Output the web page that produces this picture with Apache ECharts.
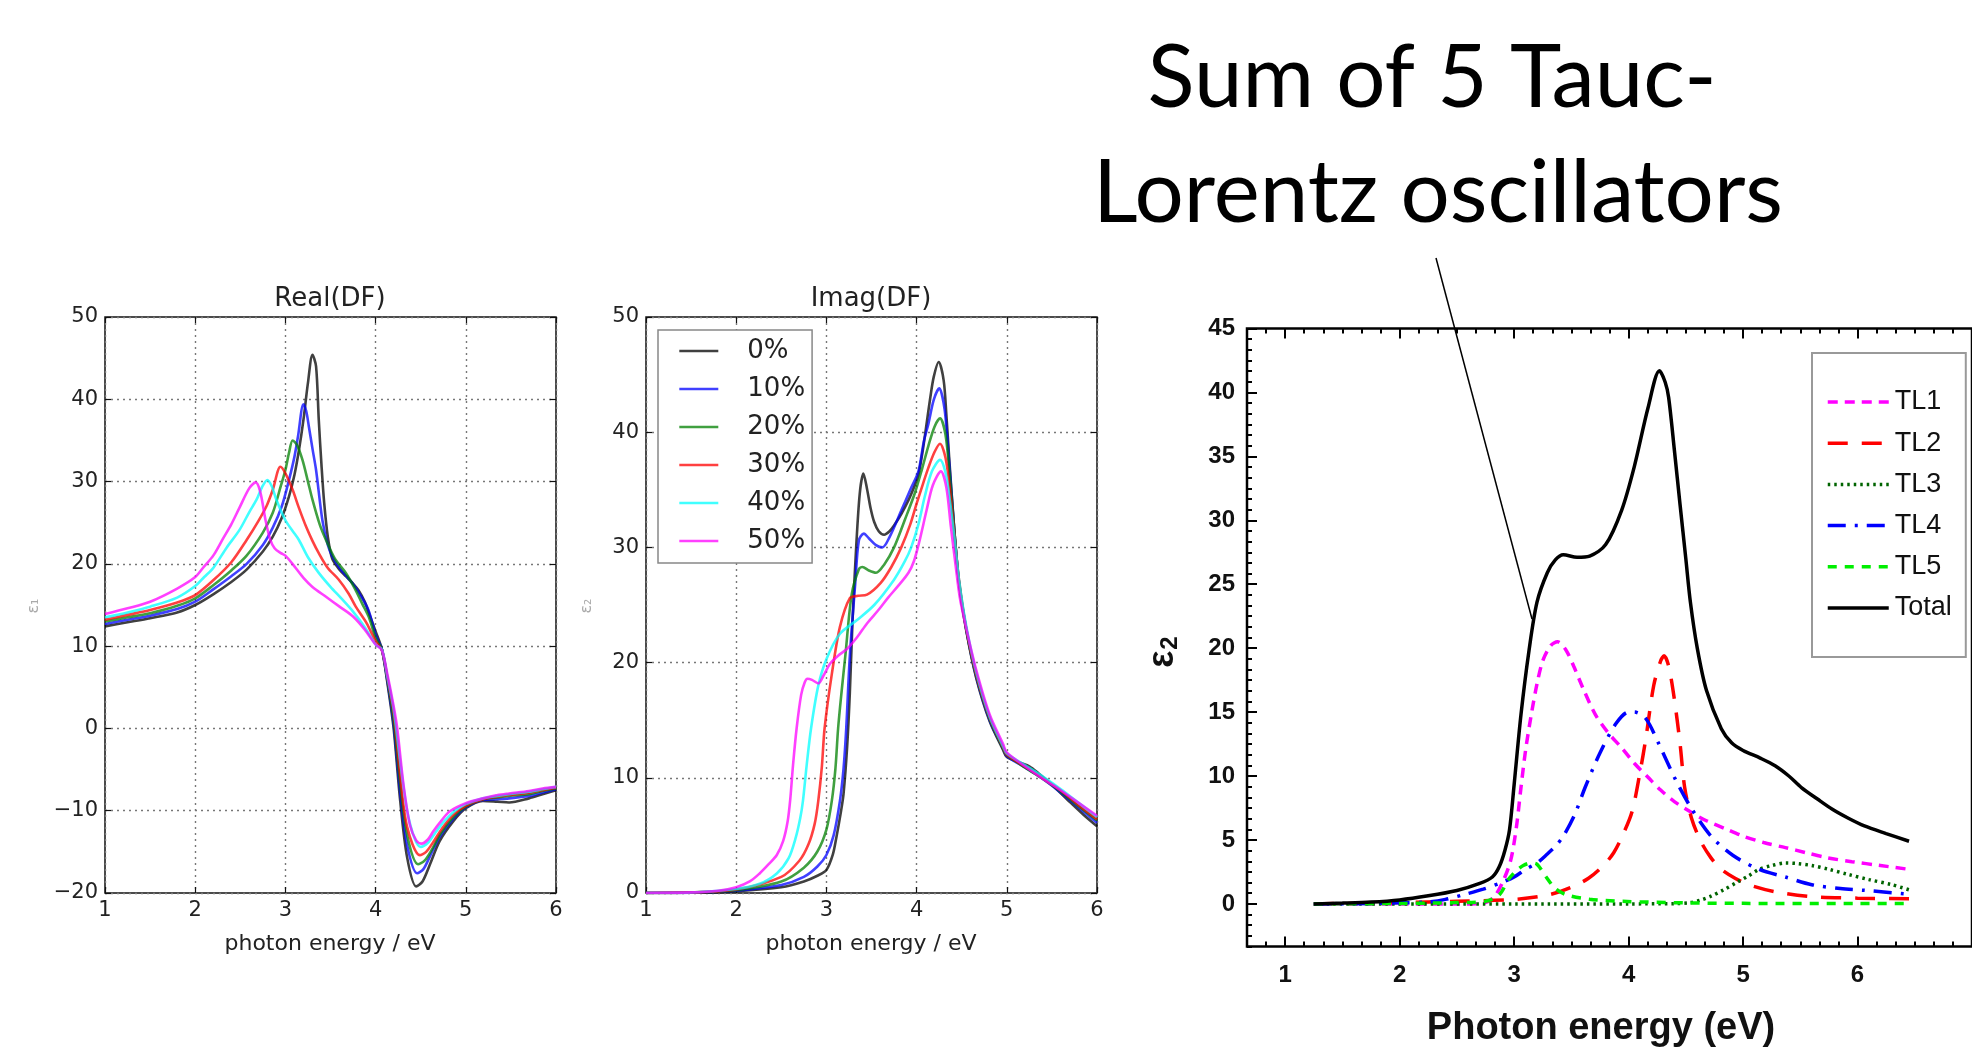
<!DOCTYPE html>
<html>
<head>
<meta charset="utf-8">
<script src="https://cdn.jsdelivr.net/npm/echarts@6/dist/echarts.min.js"></script>
<style>
  html, body { margin: 0; padding: 0; background: #fff; }
  #main { width: 1972px; height: 1064px; }
</style>
</head>
<body>
<div id="main"></div>
<script>
// ---- data ----
const dopingNames = ['0%', '10%', '20%', '30%', '40%', '50%'];
const dopingColors = ['#000000', '#0000ff', '#008000', '#ff0000', '#00ffff', '#ff00ff'];

// Real(DF): [photon energy, eps1]
const real0 = [[1.0,12.4],[1.25,12.9],[1.5,13.4],[1.8,14.1],[2.0,15.0],[2.2,16.3],[2.4,17.8],[2.57,19.3],[2.75,21.5],[2.86,23.3],[2.96,25.6],[3.04,28.2],[3.1,30.8],[3.15,33.8],[3.2,37.5],[3.25,42.0],[3.3,45.4],[3.34,44.0],[3.37,37.5],[3.4,32.0],[3.43,27.4],[3.47,23.3],[3.52,20.6],[3.6,19.3],[3.67,18.5],[3.75,17.6],[3.81,16.8],[3.88,15.4],[3.94,13.6],[4.0,11.8],[4.07,9.6],[4.13,5.6],[4.2,0],[4.27,-8.5],[4.35,-15.7],[4.45,-19.2],[4.52,-18.6],[4.6,-16.6],[4.71,-13.7],[4.86,-11.3],[5.0,-9.7],[5.19,-8.8],[5.35,-8.9],[5.48,-9.0],[5.7,-8.5],[5.85,-8.0],[6.0,-7.5]];
const real1 = [[1.0,12.7],[1.25,13.2],[1.5,13.7],[1.8,14.5],[2.0,15.4],[2.2,16.9],[2.4,18.5],[2.57,20.0],[2.75,22.3],[2.86,24.4],[2.96,27.0],[3.04,30.2],[3.1,33.0],[3.14,35.5],[3.2,39.4],[3.23,38.6],[3.26,36.7],[3.3,34.0],[3.34,31.4],[3.41,25.3],[3.47,22.3],[3.52,20.9],[3.6,19.5],[3.74,17.7],[3.82,16.4],[3.92,14.4],[4.0,11.4],[4.07,9.6],[4.13,5.8],[4.2,0.5],[4.27,-7.5],[4.35,-14.2],[4.46,-17.6],[4.53,-17.1],[4.6,-15.6],[4.71,-13.2],[4.86,-11.0],[5.0,-9.6],[5.19,-8.7],[5.35,-8.6],[5.48,-8.5],[5.7,-8.2],[5.85,-7.8],[6.0,-7.4]];
const real2 = [[1.0,13.0],[1.25,13.5],[1.5,14.0],[1.8,14.9],[2.0,15.8],[2.2,17.4],[2.4,19.2],[2.57,21.0],[2.75,23.8],[2.86,26.2],[2.95,29.5],[3.0,31.4],[3.04,33.5],[3.08,35.0],[3.13,34.4],[3.19,32.6],[3.25,30.0],[3.3,27.8],[3.38,24.8],[3.45,22.9],[3.55,20.6],[3.67,18.9],[3.77,17.0],[3.85,15.2],[3.93,13.4],[4.0,11.0],[4.07,9.6],[4.13,6.0],[4.2,1.0],[4.27,-6.5],[4.35,-13.0],[4.47,-16.5],[4.54,-16.1],[4.62,-14.8],[4.72,-12.8],[4.86,-10.8],[5.0,-9.5],[5.19,-8.6],[5.35,-8.4],[5.48,-8.2],[5.7,-8.0],[5.85,-7.6],[6.0,-7.3]];
const real3 = [[1.0,13.2],[1.25,13.8],[1.5,14.4],[1.8,15.3],[2.0,16.2],[2.2,18.0],[2.4,20.2],[2.57,22.9],[2.7,25.2],[2.79,27.0],[2.86,29.0],[2.945,31.8],[3.0,31.0],[3.08,29.0],[3.15,26.8],[3.23,24.5],[3.3,22.8],[3.37,21.3],[3.47,19.5],[3.59,18.1],[3.7,16.4],[3.78,14.8],[3.9,12.8],[4.0,10.6],[4.07,9.5],[4.13,6.2],[4.2,1.8],[4.27,-5.5],[4.35,-12.0],[4.49,-15.4],[4.56,-15.0],[4.64,-13.8],[4.74,-12.1],[4.86,-10.5],[5.0,-9.4],[5.19,-8.6],[5.35,-8.3],[5.48,-8.1],[5.7,-7.8],[5.85,-7.5],[6.0,-7.2]];
const real4 = [[1.0,13.5],[1.25,14.1],[1.5,14.8],[1.8,15.9],[2.0,17.3],[2.1,18.4],[2.2,19.5],[2.35,22.0],[2.49,24.1],[2.6,26.3],[2.68,27.8],[2.74,29.3],[2.8,30.2],[2.85,29.4],[2.9,27.8],[3.0,25.3],[3.08,24.0],[3.15,22.9],[3.25,20.8],[3.37,18.9],[3.5,17.2],[3.62,15.8],[3.75,14.2],[3.88,12.3],[4.0,10.2],[4.07,9.6],[4.13,6.3],[4.2,2.3],[4.27,-3.8],[4.35,-10.0],[4.43,-13.3],[4.5,-14.4],[4.58,-13.9],[4.66,-12.7],[4.76,-11.3],[4.88,-10.0],[5.0,-9.2],[5.19,-8.5],[5.35,-8.2],[5.48,-8.0],[5.7,-7.7],[5.85,-7.4],[6.0,-7.1]];
const real5 = [[1.0,13.9],[1.25,14.6],[1.5,15.4],[1.8,17.0],[2.0,18.4],[2.1,19.7],[2.2,21.0],[2.31,23.1],[2.4,24.8],[2.49,26.8],[2.6,29.2],[2.67,29.9],[2.72,28.8],[2.78,25.3],[2.83,23.0],[2.88,21.9],[2.95,21.3],[3.0,21.0],[3.1,19.7],[3.2,18.3],[3.3,17.2],[3.45,16.0],[3.6,14.8],[3.75,13.6],[3.88,12.0],[4.0,10.2],[4.07,9.5],[4.13,6.6],[4.2,2.7],[4.24,0],[4.31,-6.9],[4.38,-11.7],[4.45,-13.6],[4.51,-14.0],[4.58,-13.5],[4.64,-12.5],[4.73,-11.2],[4.82,-10.1],[5.0,-9.1],[5.19,-8.5],[5.35,-8.1],[5.48,-7.9],[5.7,-7.6],[5.85,-7.3],[6.0,-7.1]];

// Imag(DF): [photon energy, eps2]
const imag0 = [[1.0,0],[1.5,0.02],[2.0,0.15],[2.5,0.5],[2.75,1.0],[2.9,1.5],[3.0,2.0],[3.07,3.3],[3.11,4.8],[3.16,7.0],[3.19,8.6],[3.23,12.7],[3.26,17.4],[3.29,23.7],[3.33,30.0],[3.37,34.7],[3.41,36.4],[3.45,35.1],[3.49,33.4],[3.53,32.2],[3.58,31.4],[3.64,31.1],[3.7,31.4],[3.75,31.9],[3.83,32.9],[3.91,34.1],[3.97,35.2],[4.02,36.3],[4.07,38.5],[4.11,40.7],[4.15,42.9],[4.19,44.8],[4.245,46.1],[4.3,44.5],[4.33,41.5],[4.36,37.9],[4.42,31.3],[4.47,26.9],[4.55,22.8],[4.66,18.7],[4.81,14.9],[4.96,12.4],[5.0,11.8],[5.15,11.3],[5.25,11.0],[5.35,10.4],[5.5,9.4],[5.7,7.9],[5.85,6.8],[6.0,5.8]];
const imag1 = [[1.0,0],[1.5,0.03],[2.0,0.2],[2.5,0.7],[2.75,1.4],[2.9,2.3],[3.0,3.3],[3.08,5.0],[3.15,8.0],[3.19,10.8],[3.22,14.3],[3.26,20.6],[3.32,26.9],[3.36,30.6],[3.415,31.2],[3.47,30.8],[3.55,30.2],[3.62,30.0],[3.7,30.9],[3.83,33.2],[3.93,35.0],[4.02,36.6],[4.08,39.2],[4.13,40.7],[4.19,42.8],[4.25,43.8],[4.31,42.0],[4.36,37.5],[4.42,31.3],[4.47,27.0],[4.55,22.9],[4.66,18.8],[4.81,15.0],[4.96,12.5],[5.0,11.9],[5.2,10.9],[5.4,9.9],[5.6,8.7],[5.8,7.4],[6.0,6.1]];
const imag2 = [[1.0,0],[1.5,0.04],[2.0,0.25],[2.5,1.0],[2.75,2.2],[2.9,3.6],[3.0,5.5],[3.06,8.0],[3.1,10.8],[3.13,14.3],[3.17,17.6],[3.21,20.6],[3.28,25.9],[3.36,28.1],[3.4,28.3],[3.47,28.0],[3.55,27.8],[3.64,28.5],[3.75,30.0],[3.87,32.4],[3.98,34.7],[4.06,36.8],[4.13,38.8],[4.2,40.5],[4.26,41.2],[4.32,39.8],[4.37,36.0],[4.42,31.3],[4.47,27.0],[4.55,22.9],[4.66,18.9],[4.81,15.1],[4.96,12.5],[5.0,12.0],[5.2,10.9],[5.4,9.9],[5.6,8.8],[5.8,7.5],[6.0,6.3]];
const imag3 = [[1.0,0],[1.5,0.05],[2.0,0.3],[2.5,1.4],[2.7,2.8],[2.8,4.2],[2.87,6.0],[2.91,8.0],[2.95,11.0],[2.98,14.3],[3.06,19.0],[3.15,23.1],[3.26,25.6],[3.35,25.8],[3.45,25.9],[3.6,26.9],[3.72,28.3],[3.83,30.0],[3.93,32.0],[4.0,33.8],[4.07,35.5],[4.13,36.9],[4.2,38.3],[4.26,39.0],[4.32,37.8],[4.37,35.0],[4.42,31.0],[4.47,27.2],[4.55,23.0],[4.66,19.0],[4.81,15.2],[4.96,12.6],[5.0,12.0],[5.2,11.0],[5.4,10.0],[5.6,8.9],[5.8,7.6],[6.0,6.4]];
const imag4 = [[1.0,0],[1.5,0.05],[2.0,0.35],[2.26,0.8],[2.45,1.7],[2.58,3.0],[2.66,4.8],[2.71,6.5],[2.74,8.0],[2.78,11.0],[2.83,14.3],[2.91,18.0],[3.0,20.3],[3.15,22.5],[3.34,23.7],[3.53,25.0],[3.75,27.2],[3.87,28.8],[3.94,30.0],[4.02,32.0],[4.09,34.4],[4.17,36.6],[4.26,37.6],[4.32,36.5],[4.37,34.0],[4.42,30.8],[4.47,27.2],[4.55,23.2],[4.66,19.2],[4.81,15.3],[4.96,12.7],[5.0,12.1],[5.2,11.1],[5.4,10.1],[5.6,9.0],[5.8,7.8],[6.0,6.6]];
const imag5 = [[1.0,0],[1.5,0.05],[1.8,0.2],[2.0,0.5],[2.15,1.0],[2.26,1.7],[2.36,2.5],[2.45,3.3],[2.52,4.5],[2.57,6.2],[2.6,8.2],[2.63,11.1],[2.67,14.3],[2.72,17.2],[2.76,18.3],[2.79,18.6],[2.84,18.5],[2.91,18.2],[2.97,18.9],[3.04,19.9],[3.13,20.6],[3.23,21.2],[3.34,22.2],[3.45,23.4],[3.57,24.5],[3.68,25.6],[3.8,26.7],[3.91,27.8],[3.97,28.8],[4.03,30.5],[4.11,33.2],[4.18,35.4],[4.27,36.6],[4.33,35.2],[4.38,31.8],[4.43,28.6],[4.48,25.6],[4.55,23.0],[4.66,19.4],[4.81,15.5],[4.96,12.9],[5.0,12.2],[5.2,11.0],[5.4,9.9],[5.6,8.9],[5.8,7.8],[6.0,6.7]];

// Tauc-Lorentz fit: [photon energy, eps2]
const tl1 = [[1.25,0],[2.0,0],[2.6,0],[2.75,0.1],[2.83,0.6],[2.9,1.7],[2.97,3.4],[3.02,6.0],[3.06,9.1],[3.1,12.0],[3.15,14.8],[3.2,17.2],[3.25,19.0],[3.32,20.2],[3.38,20.5],[3.45,19.9],[3.52,18.6],[3.6,16.9],[3.71,14.8],[3.82,13.4],[3.94,12.2],[4.05,11.0],[4.17,9.9],[4.28,8.9],[4.4,8.0],[4.54,7.2],[4.68,6.5],[4.84,5.9],[5.0,5.3],[5.18,4.8],[5.37,4.4],[5.55,4.0],[5.74,3.6],[5.95,3.3],[6.2,3.0],[6.45,2.7]];
const tl2 = [[1.25,0],[2.0,0.1],[2.5,0.2],[3.0,0.35],[3.3,0.7],[3.5,1.3],[3.65,2.0],[3.78,3.0],[3.87,4.0],[3.95,5.4],[4.03,7.2],[4.1,10.3],[4.15,12.9],[4.22,17.1],[4.28,19.0],[4.31,19.4],[4.35,18.6],[4.4,16.0],[4.45,12.5],[4.49,9.1],[4.55,6.7],[4.63,4.9],[4.72,3.6],[4.81,2.7],[4.93,2.0],[5.05,1.5],[5.28,0.95],[5.6,0.57],[6.0,0.45],[6.45,0.4]];
const tl3 = [[1.25,0],[2.0,0],[3.0,0],[4.0,0],[4.4,0.02],[4.54,0.1],[4.63,0.3],[4.72,0.6],[4.83,1.1],[4.95,1.7],[5.05,2.2],[5.14,2.7],[5.25,3.0],[5.37,3.2],[5.48,3.15],[5.6,3.0],[5.75,2.7],[5.92,2.3],[6.1,1.9],[6.3,1.5],[6.45,1.1]];
const tl4 = [[1.25,0],[1.75,0.03],[2.0,0.08],[2.25,0.15],[2.4,0.35],[2.55,0.7],[2.73,1.15],[2.9,1.7],[3.0,2.1],[3.1,2.7],[3.2,3.2],[3.29,3.9],[3.36,4.5],[3.43,5.3],[3.53,7.0],[3.62,9.1],[3.75,11.8],[3.89,14.1],[4.0,15.0],[4.05,15.0],[4.15,14.5],[4.26,12.6],[4.4,9.9],[4.54,7.6],[4.72,5.3],[4.91,3.8],[5.14,2.7],[5.37,2.1],[5.6,1.5],[5.85,1.2],[6.06,1.06],[6.45,0.76]];
const tl5 = [[1.25,0],[2.0,0.03],[2.5,0.1],[2.75,0.2],[2.87,0.7],[2.95,1.9],[3.02,2.6],[3.08,3.0],[3.15,3.2],[3.2,3.1],[3.28,2.1],[3.36,1.2],[3.46,0.7],[3.66,0.36],[3.94,0.2],[4.5,0.08],[5.0,0.04],[6.0,0.02],[6.45,0.02]];
const total = [[1.25,0],[1.5,0.06],[1.75,0.14],[2.0,0.31],[2.25,0.63],[2.5,1.05],[2.7,1.6],[2.81,2.1],[2.87,2.9],[2.92,4.2],[2.96,5.8],[3.0,9.3],[3.06,14.8],[3.13,19.8],[3.2,23.6],[3.29,25.9],[3.36,26.9],[3.43,27.3],[3.55,27.1],[3.66,27.2],[3.8,28.1],[3.94,30.8],[4.05,34.2],[4.17,38.8],[4.27,41.7],[4.32,40.8],[4.35,39.6],[4.4,35.5],[4.45,31.2],[4.5,27.0],[4.54,23.6],[4.6,20.0],[4.68,16.7],[4.81,13.7],[4.9,12.6],[5.0,12.0],[5.15,11.4],[5.28,10.8],[5.4,10.0],[5.51,9.1],[5.65,8.2],[5.78,7.4],[5.92,6.7],[6.06,6.1],[6.25,5.5],[6.45,4.9]];

const tlNames = ['TL1', 'TL2', 'TL3', 'TL4', 'TL5', 'Total'];
const tlColors = ['#ff00ff', '#ff0000', '#006400', '#0000ff', '#00ee00', '#000000'];
const tlDashes = [[10, 7], [20, 14], [2.5, 4], [18, 9, 3, 9], [9, 8], 'solid'];

// tick values of the right-hand plot
const fitTicksX = [1, 2, 3, 4, 5, 6];
const fitTicksY = [0, 5, 10, 15, 20, 25, 30, 35, 40, 45];

const realData = [real0, real1, real2, real3, real4, real5];
const imagData = [imag0, imag1, imag2, imag3, imag4, imag5];
const tlData = [tl1, tl2, tl3, tl4, tl5, total];

// minor ticks: six steps per labelled step
const fitMinorX = [];
for (let i = 4; i <= 42; i++) fitMinorX.push(i / 6);
const fitMinorY = [];
for (let i = -4; i <= 54; i++) fitMinorY.push(i * 5 / 6);

var chart = echarts.init(document.getElementById('main'));

const mplFont = 'DejaVu Sans';
const mplText = '#222';
const minus = v => (v < 0 ? '\u2212' + Math.abs(v) : '' + v);

function mplX(grid, top) {
    return {
        type: 'value', gridIndex: grid, min: 1, max: 6, interval: 1,
        position: top ? 'top' : 'bottom',
        axisLine: { show: false, onZero: false },
        axisTick: { show: true, inside: true, length: 6, lineStyle: { color: '#111', width: 1.2 } },
        axisLabel: { show: !top, margin: 7, fontFamily: mplFont, fontSize: 21, color: mplText },
        splitLine: top ? { show: false } : { show: true, lineStyle: { type: [2, 4], color: '#777', width: 1.4 } }
    };
}
function mplY(grid, min, max, right) {
    return {
        type: 'value', gridIndex: grid, min: min, max: max, interval: 10,
        position: right ? 'right' : 'left',
        axisLine: { show: false, onZero: false },
        axisTick: { show: true, inside: true, length: 6, lineStyle: { color: '#111', width: 1.2 } },
        axisLabel: { show: !right, margin: 7, fontFamily: mplFont, fontSize: 21, color: mplText, formatter: minus },
        splitLine: right ? { show: false } : { show: true, lineStyle: { type: [2, 4], color: '#777', width: 1.4 } }
    };
}
function fitX(top, minor) {
    return {
        type: 'value', gridIndex: 2, min: 2 / 3, max: 7,
        position: top ? 'top' : 'bottom',
        axisLine: { show: false, onZero: false },
        axisTick: { show: true, inside: true, length: minor ? 5 : 10, customValues: minor ? fitMinorX : fitTicksX,
            lineStyle: { color: '#000', width: 2 } },
        axisLabel: { show: !top && !minor, customValues: fitTicksX, margin: 17,
            fontFamily: 'Liberation Sans', fontWeight: 'bold', fontSize: 24, color: '#111' },
        splitLine: { show: false }
    };
}
function fitY(minor) {
    return {
        type: 'value', gridIndex: 2, min: -10 / 3, max: 45, position: 'left',
        axisLine: { show: false, onZero: false },
        axisTick: { show: true, inside: true, length: minor ? 5 : 10, customValues: minor ? fitMinorY : fitTicksY,
            lineStyle: { color: '#000', width: 2 } },
        axisLabel: { show: !minor, customValues: fitTicksY, margin: 12,
            fontFamily: 'Liberation Sans', fontWeight: 'bold', fontSize: 24, color: '#111' },
        splitLine: { show: false }
    };
}

const series = [];
realData.forEach(function (d, i) {
    series.push({
        name: dopingNames[i], type: 'line', xAxisIndex: 0, yAxisIndex: 0, data: d,
        symbol: 'none', smooth: 0.3,
        lineStyle: { color: dopingColors[i], width: 2.6, opacity: 0.75 }, itemStyle: { color: dopingColors[i] }
    });
});
imagData.forEach(function (d, i) {
    series.push({
        name: dopingNames[i], type: 'line', xAxisIndex: 2, yAxisIndex: 2, data: d,
        symbol: 'none', smooth: 0.3,
        lineStyle: { color: dopingColors[i], width: 2.6, opacity: 0.75 }, itemStyle: { color: dopingColors[i] }
    });
});
tlData.forEach(function (d, i) {
    series.push({
        name: tlNames[i], type: 'line', xAxisIndex: 4, yAxisIndex: 4, data: d,
        symbol: 'none', smooth: 0.3,
        lineStyle: { color: tlColors[i], width: 3.5, type: tlDashes[i] }, itemStyle: { color: tlColors[i] }
    });
});

function label(text, x, y, font, fill, rotation) {
    return {
        type: 'text', x: x, y: y, silent: true, rotation: rotation || 0,
        style: { text: text, font: font, fill: fill || '#222', align: 'center', verticalAlign: 'middle' }
    };
}

option = {
    backgroundColor: '#fff',
    animation: false,
    grid: [
        { left: 105, top: 317, width: 451, height: 576, show: true, borderColor: '#111', borderWidth: 1.5, backgroundColor: '#fff' },
        { left: 646, top: 317, width: 451, height: 576, show: true, borderColor: '#111', borderWidth: 1.5, backgroundColor: '#fff' },
        { left: 1247, top: 328.5, width: 744, height: 618, show: true, borderColor: '#000', borderWidth: 2.5, backgroundColor: '#fff' }
    ],
    xAxis: [mplX(0, false), mplX(0, true), mplX(1, false), mplX(1, true),
        fitX(false, false), fitX(false, true), fitX(true, false), fitX(true, true)],
    yAxis: [mplY(0, -20, 50, false), mplY(0, -20, 50, true), mplY(1, 0, 50, false), mplY(1, 0, 50, true),
        fitY(false), fitY(true)],
    legend: [
        {
            data: dopingNames, orient: 'vertical', left: 658, top: 330,
            itemWidth: 39, itemHeight: 14, itemGap: 8, padding: [6, 7, 7, 20],
            borderColor: '#888', borderWidth: 1.5, backgroundColor: '#fff', selectedMode: false,
            itemStyle: { opacity: 0 }, lineStyle: { width: 2.6 },
            textStyle: { fontFamily: mplFont, fontSize: 26, color: mplText, lineHeight: 30, padding: [0, 0, 0, 24] }
        },
        {
            data: tlNames, orient: 'vertical', left: 1812, top: 353,
            itemWidth: 61, itemHeight: 14, itemGap: 7.2, padding: [32, 14, 32, 14],
            borderColor: '#999', borderWidth: 2, backgroundColor: '#fff', selectedMode: false,
            itemStyle: { opacity: 0 }, lineStyle: { width: 3.5 },
            textStyle: { fontFamily: 'Liberation Sans', fontSize: 27, color: '#111', lineHeight: 34, padding: [0, 0, 0, 1] }
        }
    ],
    graphic: [
        label('Real(DF)', 330, 299, '26px DejaVu Sans'),
        label('Imag(DF)', 871, 299, '26px DejaVu Sans'),
        label('photon energy / eV', 330, 944, '22px DejaVu Sans'),
        label('photon energy / eV', 871, 944, '22px DejaVu Sans'),
        label('\u03b5\u2081', 34, 606, '16px DejaVu Sans', '#aaa', Math.PI / 2),
        label('\u03b5\u2082', 587, 606, '16px DejaVu Sans', '#aaa', Math.PI / 2),
        label('Photon energy (eV)', 1601, 1029, 'bold 38px Liberation Sans', '#111'),
        {
            type: 'text', x: 1163, y: 652, rotation: Math.PI / 2, silent: true,
            style: {
                text: '{a|\u03b5}{b|2}', align: 'center', verticalAlign: 'middle',
                rich: {
                    a: { fontFamily: 'Liberation Sans', fontWeight: 'bold', fontSize: 36, fill: '#111', lineHeight: 40 },
                    b: { fontFamily: 'Liberation Sans', fontWeight: 'bold', fontSize: 24, fill: '#111', lineHeight: 40, padding: [14, 0, 0, 1] }
                }
            }
        },
        label('Sum of 5 Tauc-', 1432, 79, '87px Lato', '#000'),
        label('Lorentz oscillators', 1438, 194, '87px Lato', '#000'),
        {
            type: 'line', silent: true, z: 100,
            shape: { x1: 1436, y1: 258, x2: 1532, y2: 619 },
            style: { stroke: '#000', lineWidth: 1.5 }
        }
    ],
    series: series
};

chart.setOption(option);

window.onresize = function () {
    chart.resize();
};
</script>
</body>
</html>
